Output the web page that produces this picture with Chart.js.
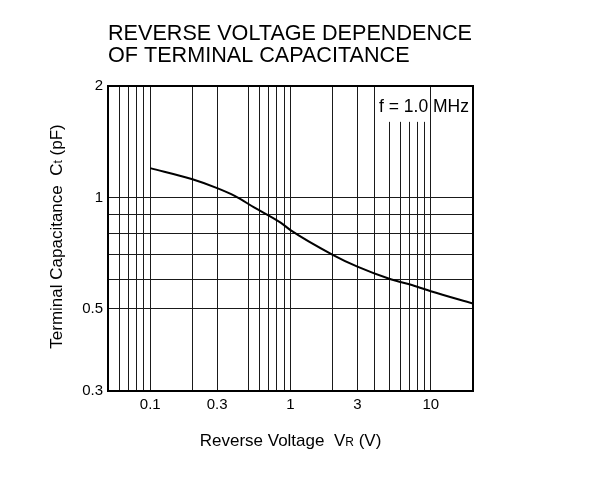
<!DOCTYPE html>
<html>
<head>
<meta charset="utf-8">
<script src="https://cdn.jsdelivr.net/npm/chart.js@4.4.0/dist/chart.umd.min.js"></script>
<style>
  html,body{margin:0;padding:0;background:#fff;}
  #wrap{width:599px;height:480px;}
</style>
</head>
<body>
<div id="wrap"><canvas id="c" width="599" height="480"></canvas></div>
<script>
// ---- data ----
const reverseVoltage = [0.1, 0.2, 0.3, 0.4, 0.55, 0.85, 1, 2, 3, 5, 8, 10, 20];
const capacitance    = [1.2, 1.12, 1.06, 1.01, 0.94, 0.855, 0.816, 0.70, 0.65, 0.604, 0.574, 0.558, 0.517];

const xTickValues = [0.1, 0.3, 1, 3, 10];
const xTickLabels = ['0.1', '0.3', '1', '3', '10'];
const xGridFull  = [0.06, 0.07, 0.08, 0.09, 0.1, 0.2, 0.3, 0.5, 0.6, 0.7, 0.8, 0.9, 1, 2, 3, 4, 10];
const xGridShort = [5, 6, 7, 8, 9];

const yTickValues = [0.3, 0.5, 1, 2];
const yTickLabels = ['0.3', '0.5', '1', '2'];
const yGrid = [0.3, 0.5, 0.6, 0.7, 0.8, 0.9, 1, 2];

const titleLines = ['REVERSE VOLTAGE DEPENDENCE', 'OF TERMINAL CAPACITANCE'];
const xTitle = ['Reverse Voltage  V', 'R', ' (V)'];
const yTitle = ['Terminal Capacitance  C', 't', ' (pF)'];
const noteText = 'f = 1.0 MHz';

const FONT = '"Liberation Sans", Arial, sans-serif';

function drawSubText(ctx, parts, cx, cy, size) {
  const big = size + 'px ' + FONT;
  const small = Math.round(size * 0.68) + 'px ' + FONT;
  ctx.font = big; const w0 = ctx.measureText(parts[0]).width;
  ctx.font = small; const w1 = ctx.measureText(parts[1]).width;
  ctx.font = big; const w2 = ctx.measureText(parts[2]).width;
  const total = w0 + w1 + w2;
  let x = cx - total / 2;
  ctx.textAlign = 'left';
  ctx.textBaseline = 'alphabetic';
  const base = cy + size * 0.36;
  ctx.font = big; ctx.fillText(parts[0], x, base); x += w0;
  ctx.font = small; ctx.fillText(parts[1], x, base); x += w1;
  ctx.font = big; ctx.fillText(parts[2], x, base);
}

const decorPlugin = {
  id: 'decor',
  beforeDatasetsDraw(chart) {
    const ctx = chart.ctx, a = chart.chartArea, xs = chart.scales.x;
    ctx.save();
    ctx.strokeStyle = '#1a1a1a';
    ctx.lineWidth = 1;
    const shortTop = chart.scales.y.getPixelForValue(1.6);
    xGridShort.forEach(v => {
      const px = Math.round(xs.getPixelForValue(v)) + 0.5;
      ctx.beginPath(); ctx.moveTo(px, shortTop); ctx.lineTo(px, a.bottom); ctx.stroke();
    });
    ctx.restore();
  },
  afterDraw(chart) {
    const ctx = chart.ctx, a = chart.chartArea;
    ctx.save();
    // border
    ctx.strokeStyle = '#000';
    ctx.lineWidth = 2;
    ctx.strokeRect(a.left, a.top, a.right - a.left, a.bottom - a.top);
    ctx.fillStyle = '#000';
    // title
    ctx.font = '21.6px ' + FONT;
    ctx.textAlign = 'left';
    ctx.textBaseline = 'alphabetic';
    ctx.fillText(titleLines[0], a.left, 40);
    ctx.fillText(titleLines[1], a.left, 62);
    // note
    ctx.font = '17.5px ' + FONT;
    ctx.textAlign = 'right';
    ctx.fillText(noteText, a.right - 4, 112);
    // x title
    drawSubText(ctx, xTitle, (a.left + a.right) / 2, 440, 17);
    // y title
    ctx.translate(56, (a.top + a.bottom) / 2 - 2);
    ctx.rotate(-Math.PI / 2);
    drawSubText(ctx, yTitle, 0, 0, 17);
    ctx.restore();
  }
};

new Chart(document.getElementById('c'), {
  type: 'line',
  data: {
    datasets: [{
      data: reverseVoltage.map((v, i) => ({x: v, y: capacitance[i]})),
      borderColor: '#000',
      borderWidth: 2,
      pointRadius: 0,
      fill: false,
      cubicInterpolationMode: 'monotone'
    }]
  },
  options: {
    responsive: false,
    animation: false,
    layout: {padding: {top: 86, right: 126, bottom: 0, left: 0}},
    plugins: {legend: {display: false}, title: {display: false}, tooltip: {enabled: false}},
    scales: {
      x: {
        type: 'logarithmic',
        min: 0.05, max: 20,
        afterBuildTicks(scale) { scale.ticks = xGridFull.map(v => ({value: v})); },
        afterFit(scale) { scale.height = 89; },
        border: {display: false},
        grid: {color: '#1a1a1a', lineWidth: 1, drawTicks: false},
        ticks: {
          autoSkip: false, maxRotation: 0, padding: 5,
          color: '#000', font: {size: 15, family: FONT},
          callback(v) { const i = xTickValues.indexOf(v); return i >= 0 ? xTickLabels[i] : ''; }
        }
      },
      y: {
        type: 'logarithmic',
        min: 0.3, max: 2,
        afterBuildTicks(scale) { scale.ticks = yGrid.map(v => ({value: v})); },
        afterFit(scale) { scale.width = 108; },
        border: {display: false},
        grid: {color: '#1a1a1a', lineWidth: 1, drawTicks: false},
        ticks: {
          autoSkip: false, padding: 5,
          color: '#000', font: {size: 15, family: FONT},
          callback(v) { const i = yTickValues.indexOf(v); return i >= 0 ? yTickLabels[i] : ''; }
        }
      }
    }
  },
  plugins: [decorPlugin]
});
</script>
</body>
</html>
